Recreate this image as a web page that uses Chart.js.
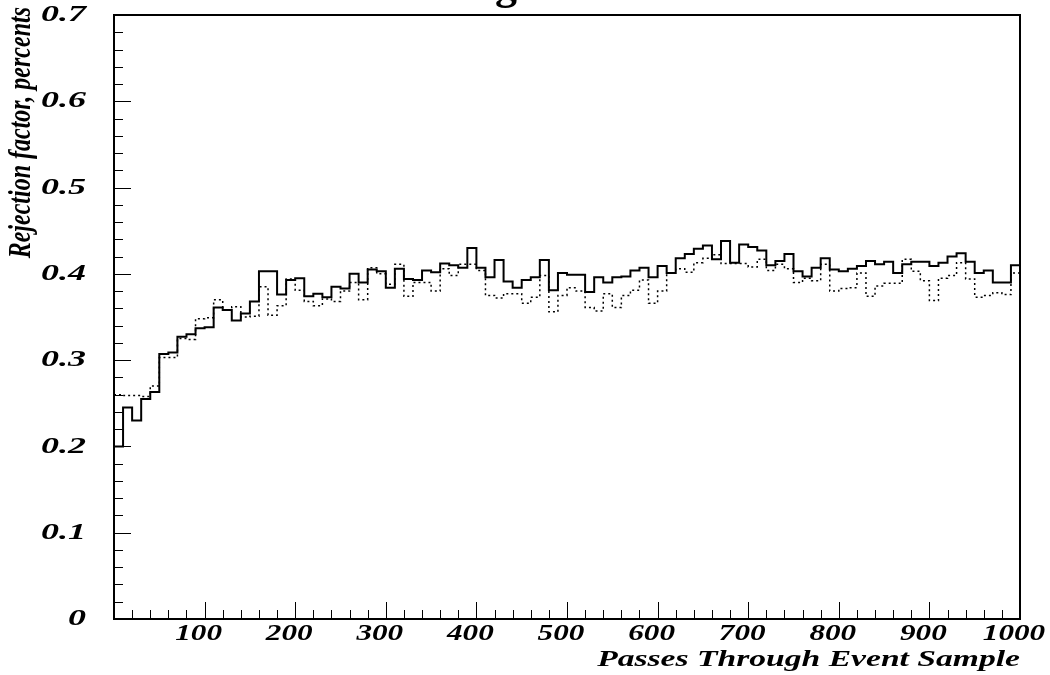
<!DOCTYPE html>
<html>
<head>
<meta charset="utf-8">
<script src="https://cdn.jsdelivr.net/npm/chart.js@4/dist/chart.umd.min.js"></script>
<style>
  html, body { margin: 0; padding: 0; background: #fff; }
  #wrap { width: 1050px; height: 675px; }
</style>
</head>
<body>
<div id="wrap"><canvas id="rej" width="1050" height="675"></canvas></div>
<script>
// histogram: 100 bins of 10 passes each, x from 0 to 1000
const binWidth = 10;
const xMax = 1000;

// rejection factor per bin, solid histogram
const solidRate = [
  0.200, 0.245, 0.230, 0.255, 0.263, 0.307, 0.309, 0.327, 0.330, 0.337,
  0.338, 0.361, 0.358, 0.346, 0.354, 0.368, 0.403, 0.403, 0.376, 0.393,
  0.395, 0.374, 0.377, 0.373, 0.385, 0.383, 0.400, 0.390, 0.405, 0.403,
  0.384, 0.406, 0.394, 0.393, 0.404, 0.402, 0.412, 0.410, 0.407, 0.430,
  0.407, 0.396, 0.416, 0.391, 0.384, 0.393, 0.396, 0.416, 0.381, 0.401,
  0.399, 0.399, 0.379, 0.396, 0.390, 0.396, 0.397, 0.404, 0.407, 0.396,
  0.409, 0.401, 0.418, 0.423, 0.429, 0.433, 0.417, 0.438, 0.413, 0.434,
  0.431, 0.427, 0.410, 0.415, 0.423, 0.403, 0.397, 0.407, 0.418, 0.405,
  0.403, 0.406, 0.409, 0.415, 0.411, 0.414, 0.401, 0.411, 0.414, 0.414,
  0.409, 0.413, 0.420, 0.424, 0.414, 0.401, 0.404, 0.390, 0.390, 0.410
];

// rejection factor per bin, dotted histogram
const dottedRate = [
  0.260, 0.259, 0.259, 0.258, 0.270, 0.303, 0.303, 0.325, 0.324, 0.348,
  0.349, 0.370, 0.358, 0.362, 0.350, 0.351, 0.385, 0.352, 0.363, 0.394,
  0.381, 0.368, 0.363, 0.371, 0.368, 0.380, 0.390, 0.370, 0.407, 0.400,
  0.388, 0.411, 0.374, 0.390, 0.390, 0.380, 0.406, 0.398, 0.411, 0.411,
  0.404, 0.375, 0.372, 0.377, 0.377, 0.366, 0.373, 0.398, 0.356, 0.375,
  0.384, 0.380, 0.361, 0.357, 0.377, 0.361, 0.375, 0.381, 0.393, 0.366,
  0.380, 0.401, 0.406, 0.402, 0.413, 0.418, 0.422, 0.412, 0.412, 0.412,
  0.408, 0.417, 0.404, 0.411, 0.406, 0.390, 0.395, 0.392, 0.411, 0.380,
  0.383, 0.384, 0.401, 0.374, 0.386, 0.389, 0.389, 0.417, 0.403, 0.392,
  0.369, 0.395, 0.398, 0.413, 0.394, 0.373, 0.375, 0.378, 0.376, 0.401
];

const xMajorStep = 100, xMinorStep = 20;
const yMax = 0.7, yMajorStep = 0.1, yMinorStep = 0.02;

const titleText = 'Background';
const xTitle = 'Passes Through Event Sample';
const yTitle = 'Rejection factor, percents';

// one point per bin left edge, plus the closing edge at xMax
function toSteps(vals) {
  const pts = vals.map((v, i) => ({ x: i * binWidth, y: v }));
  pts.push({ x: xMax, y: vals[vals.length - 1] });
  return pts;
}

const serif = '"Liberation Serif"';
const labelFont = 'italic bold 24px ' + serif;

// draw text stretched horizontally by k, anchored at (x, y)
function wideText(ctx, text, x, y, align, k, rot) {
  ctx.save();
  ctx.translate(x, y);
  if (rot) { ctx.rotate(rot); ctx.scale(1, k); }
  else ctx.scale(k, 1);
  ctx.textAlign = align;
  ctx.fillText(text, 0, 0);
  ctx.restore();
}

// inward ticks, frame, labels and the clipped title
const paw = {
  id: 'paw',
  afterDatasetsDraw(chart) {
    const { ctx, chartArea: a, scales: { x, y } } = chart;
    ctx.save();
    ctx.strokeStyle = '#000';
    ctx.lineWidth = 1;
    ctx.beginPath();
    for (let k = 0; k * xMinorStep <= xMax; k++) {
      const px = Math.round(x.getPixelForValue(k * xMinorStep)) + 0.5;
      const len = (k * xMinorStep) % xMajorStep === 0 ? 17 : 9;
      ctx.moveTo(px, a.bottom);
      ctx.lineTo(px, a.bottom - len);
    }
    for (let k = 0; k * yMinorStep <= yMax + 1e-9; k++) {
      const py = Math.round(y.getPixelForValue(k * yMinorStep)) + 0.5;
      const len = k % 5 === 0 ? 17 : 9;
      ctx.moveTo(a.left, py);
      ctx.lineTo(a.left + len, py);
    }
    ctx.stroke();

    ctx.lineWidth = 2;
    ctx.strokeRect(a.left, a.top, a.right - a.left, a.bottom - a.top);

    ctx.fillStyle = '#000';
    ctx.font = labelFont;
    ctx.textBaseline = 'middle';
    y.ticks.forEach(t => {
      const lbl = Math.abs(t.value) < 1e-9 ? '0' : String(+t.value.toFixed(1));
      wideText(ctx, lbl, a.left - 28, y.getPixelForValue(t.value), 'right', 1.5);
    });
    x.ticks.forEach(t => {
      if (t.value === 0) return;
      wideText(ctx, String(t.value), x.getPixelForValue(t.value) - 6, a.bottom + 15, 'center', 1.3);
    });

    wideText(ctx, xTitle, a.right, 660, 'right', 1.4);
    wideText(ctx, yTitle, 22, 7, 'right', 1.3, -Math.PI / 2);

    ctx.font = 'bold 44px ' + serif;
    ctx.textBaseline = 'alphabetic';
    ctx.textAlign = 'left';
    const lead = ctx.measureText('Back').width + ctx.measureText('g').width / 2;
    ctx.fillText(titleText, 506 - lead, -1);
    ctx.restore();
  }
};

new Chart(document.getElementById('rej'), {
  type: 'line',
  data: {
    datasets: [
      {
        data: toSteps(solidRate),
        stepped: true,
        borderColor: '#000',
        borderWidth: 2,
        pointRadius: 0,
        fill: false
      },
      {
        data: toSteps(dottedRate),
        stepped: true,
        borderColor: '#000',
        borderWidth: 1.5,
        borderDash: [2, 3],
        pointRadius: 0,
        fill: false
      }
    ]
  },
  options: {
    responsive: false,
    animation: false,
    layout: { autoPadding: false, padding: { top: 15, right: 30, left: 0, bottom: 0 } },
    plugins: { legend: { display: false }, tooltip: { enabled: false } },
    scales: {
      x: {
        type: 'linear',
        min: 0,
        max: xMax,
        grid: { display: false, drawTicks: false },
        border: { display: false },
        ticks: { display: false, stepSize: xMajorStep },
        afterFit: s => { s.height = 56; }
      },
      y: {
        min: 0,
        max: yMax,
        grid: { display: false, drawTicks: false },
        border: { display: false },
        ticks: { display: false, stepSize: yMajorStep },
        afterFit: s => { s.width = 114; }
      }
    }
  },
  plugins: [paw]
});
</script>
</body>
</html>
